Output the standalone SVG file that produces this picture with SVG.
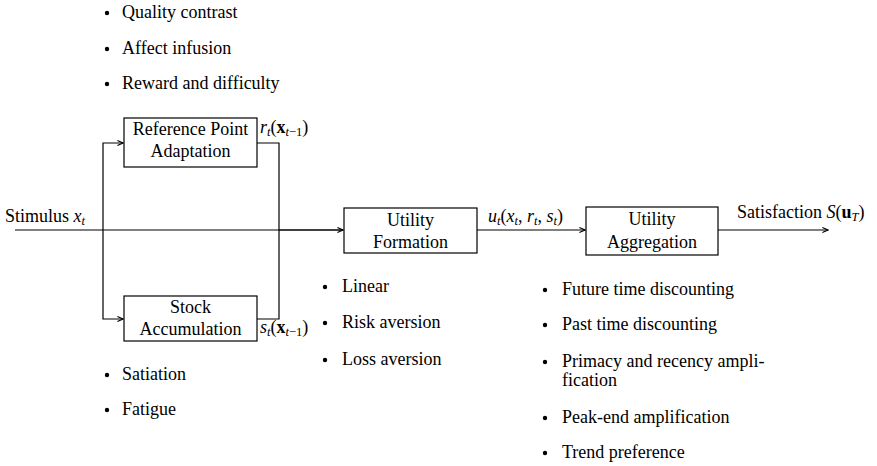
<svg xmlns="http://www.w3.org/2000/svg" width="877" height="466" viewBox="0 0 877 466">
  <defs>
    <marker id="arr" viewBox="0 0 10 10" refX="9" refY="5" markerWidth="7" markerHeight="7" markerUnits="userSpaceOnUse" orient="auto">
      <path d="M1,1.5 L9,5 L1,8.5" fill="none" stroke="#000" stroke-width="1.6"/>
    </marker>
  </defs>

  <!-- connectors -->
  <g id="connectors" fill="none" stroke="#000" stroke-width="1.2">
    <path d="M15,230 H343" marker-end="url(#arr)"/>
    <path d="M279,230 H343"/>
    <path d="M103,230 V143 H123" marker-end="url(#arr)"/>
    <path d="M103,230 V319 H123" marker-end="url(#arr)"/>
    <path d="M257,143 H279 V319 H257"/>
    <path d="M477,230 H585" marker-end="url(#arr)"/>
    <path d="M718,230 H828" marker-end="url(#arr)"/>
  </g>

  <!-- edge labels -->
  <g id="labels" font-size="18">
    <text font-family="Liberation Serif" x="5" y="222">Stimulus <tspan font-style="italic">x</tspan><tspan font-style="italic" font-size="12.5" dy="3">t</tspan></text>
    <text font-family="Liberation Serif" x="260" y="133"><tspan font-style="italic">r</tspan><tspan font-style="italic" font-size="12.5" dy="3">t</tspan><tspan dy="-3">(</tspan><tspan font-weight="bold">x</tspan><tspan font-size="12.5" dy="3"><tspan font-style="italic">t</tspan>−1</tspan><tspan dy="-3">)</tspan></text>
    <text font-family="Liberation Serif" x="260" y="333"><tspan font-style="italic">s</tspan><tspan font-style="italic" font-size="12.5" dy="3">t</tspan><tspan dy="-3">(</tspan><tspan font-weight="bold">x</tspan><tspan font-size="12.5" dy="3"><tspan font-style="italic">t</tspan>−1</tspan><tspan dy="-3">)</tspan></text>
    <text font-family="Liberation Serif" x="488" y="222"><tspan font-style="italic">u</tspan><tspan font-style="italic" font-size="12.5" dy="3">t</tspan><tspan dy="-3">(</tspan><tspan font-style="italic">x</tspan><tspan font-style="italic" font-size="12.5" dy="3">t</tspan><tspan dy="-3">, </tspan><tspan font-style="italic">r</tspan><tspan font-style="italic" font-size="12.5" dy="3">t</tspan><tspan dy="-3">, </tspan><tspan font-style="italic">s</tspan><tspan font-style="italic" font-size="12.5" dy="3">t</tspan><tspan dy="-3">)</tspan></text>
    <text font-family="Liberation Serif" x="737" y="218">Satisfaction <tspan font-style="italic">S</tspan>(<tspan font-weight="bold">u</tspan><tspan font-style="italic" font-size="12.5" dy="3">T</tspan><tspan dy="-3">)</tspan></text>
  </g>

  <!-- nodes -->
  <g id="ref-point" font-size="18" text-anchor="middle">
    <rect x="124" y="118" width="133" height="49" fill="#fff" stroke="#000" stroke-width="1.2"/>
    <text font-family="Liberation Serif" x="190.5" y="135">Reference Point</text>
    <text font-family="Liberation Serif" x="190.5" y="157">Adaptation</text>
  </g>
  <g id="stock" font-size="18" text-anchor="middle">
    <rect x="124" y="296" width="133" height="45" fill="#fff" stroke="#000" stroke-width="1.2"/>
    <text font-family="Liberation Serif" x="190.5" y="313">Stock</text>
    <text font-family="Liberation Serif" x="190.5" y="335">Accumulation</text>
  </g>
  <g id="utility-formation" font-size="18" text-anchor="middle">
    <rect x="344" y="208" width="133" height="45" fill="#fff" stroke="#000" stroke-width="1.2"/>
    <text font-family="Liberation Serif" x="410.5" y="226">Utility</text>
    <text font-family="Liberation Serif" x="410.5" y="248">Formation</text>
  </g>
  <g id="utility-aggregation" font-size="18" text-anchor="middle">
    <rect x="586" y="207" width="132" height="48" fill="#fff" stroke="#000" stroke-width="1.2"/>
    <text font-family="Liberation Serif" x="652" y="225">Utility</text>
    <text font-family="Liberation Serif" x="652" y="248">Aggregation</text>
  </g>

  <!-- bullet lists -->
  <g id="list-reference" font-size="18">
    <circle cx="107" cy="13" r="2.2"/><text font-family="Liberation Serif" x="122" y="18">Quality contrast</text>
    <circle cx="107" cy="49" r="2.2"/><text font-family="Liberation Serif" x="122" y="54">Affect infusion</text>
    <circle cx="107" cy="84" r="2.2"/><text font-family="Liberation Serif" x="122" y="89">Reward and difficulty</text>
  </g>
  <g id="list-stock" font-size="18">
    <circle cx="107" cy="375" r="2.2"/><text font-family="Liberation Serif" x="122" y="380">Satiation</text>
    <circle cx="107" cy="410" r="2.2"/><text font-family="Liberation Serif" x="122" y="415">Fatigue</text>
  </g>
  <g id="list-formation" font-size="18">
    <circle cx="325" cy="287" r="2.2"/><text font-family="Liberation Serif" x="342" y="292">Linear</text>
    <circle cx="325" cy="323" r="2.2"/><text font-family="Liberation Serif" x="342" y="328">Risk aversion</text>
    <circle cx="325" cy="360" r="2.2"/><text font-family="Liberation Serif" x="342" y="365">Loss aversion</text>
  </g>
  <g id="list-aggregation" font-size="18">
    <circle cx="545" cy="290" r="2.2"/><text font-family="Liberation Serif" x="562" y="295">Future time discounting</text>
    <circle cx="545" cy="325" r="2.2"/><text font-family="Liberation Serif" x="562" y="330">Past time discounting</text>
    <circle cx="545" cy="362" r="2.2"/><text font-family="Liberation Serif" x="562" y="367">Primacy and recency ampli-</text>
    <text font-family="Liberation Serif" x="562" y="386">fication</text>
    <circle cx="545" cy="418" r="2.2"/><text font-family="Liberation Serif" x="562" y="423">Peak-end amplification</text>
    <circle cx="545" cy="453" r="2.2"/><text font-family="Liberation Serif" x="562" y="458">Trend preference</text>
  </g>
</svg>
